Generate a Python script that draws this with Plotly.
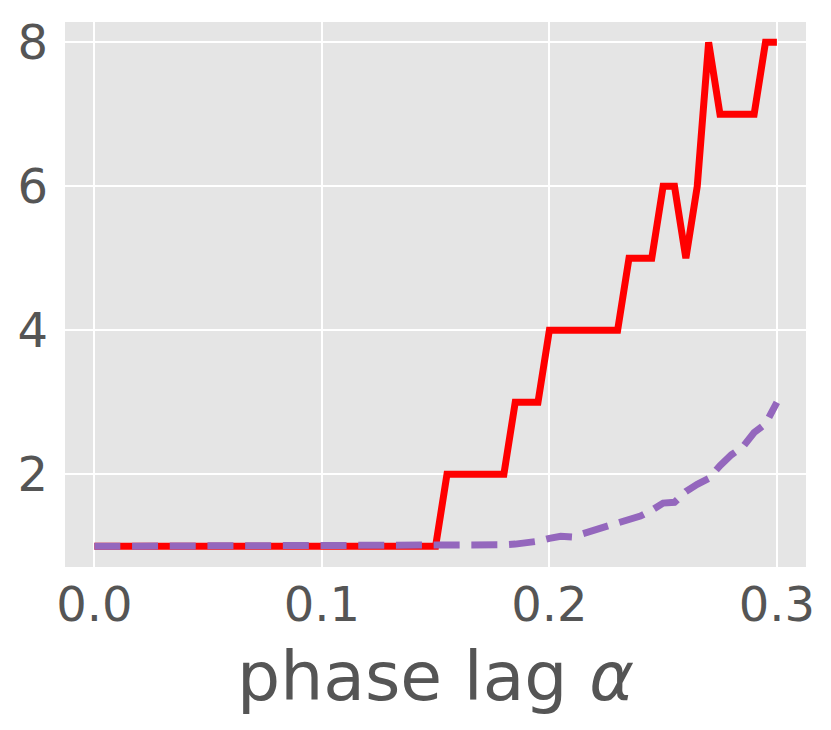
import plotly.graph_objects as go

# phase lag values
alpha = [0.0, 0.005, 0.01, 0.015, 0.02, 0.025, 0.03, 0.035, 0.04, 0.045,
         0.05, 0.055, 0.06, 0.065, 0.07, 0.075, 0.08, 0.085, 0.09, 0.095,
         0.1, 0.105, 0.11, 0.115, 0.12, 0.125, 0.13, 0.135, 0.14, 0.145,
         0.15, 0.155, 0.16, 0.165, 0.17, 0.175, 0.18, 0.185, 0.19, 0.195,
         0.2, 0.205, 0.21, 0.215, 0.22, 0.225, 0.23, 0.235, 0.24, 0.245,
         0.25, 0.255, 0.26, 0.265, 0.27, 0.275, 0.28, 0.285, 0.29, 0.295, 0.3]

# red solid curve
red_vals = [1] * 31 + [2, 2, 2, 2, 2, 2, 3, 3, 3,
                       4, 4, 4, 4, 4, 4, 4, 5, 5, 5,
                       6, 6, 5, 6, 8, 7, 7, 7, 7, 8, 8]

# purple dashed curve
purple_vals = [1.0] * 31 + [1.0, 1.0, 1.005, 1.01, 1.01, 1.02, 1.03, 1.04, 1.07,
                            1.11, 1.14, 1.13, 1.18, 1.21, 1.26, 1.31, 1.36, 1.42, 1.5,
                            1.6, 1.61, 1.76, 1.86, 1.94, 2.12, 2.27, 2.38, 2.58, 2.7, 3.0]

x_ticks = [0.0, 0.1, 0.2, 0.3]
y_ticks = [2, 4, 6, 8]

fig = go.Figure()
fig.add_trace(go.Scatter(x=alpha, y=red_vals, mode='lines',
                         line=dict(color='#FF0000', width=7)))
fig.add_trace(go.Scatter(x=alpha, y=purple_vals, mode='lines',
                         line=dict(color='#9467BD', width=7, dash='26px,11.7px')))

# the page body adds an 8px offset, so the margins are shifted to compensate
fig.update_layout(
    width=831, height=730,
    margin=dict(l=57, r=33, t=14, b=171),
    paper_bgcolor='white', plot_bgcolor='#E5E5E5',
    showlegend=False,
    font=dict(family='DejaVu Sans', color='#555555'),
)
fig.update_xaxes(range=[-0.0129, 0.3128], tickvals=x_ticks, tickformat='.1f',
                 tickfont=dict(size=48, color='#555555'), automargin=False,
                 gridcolor='white', gridwidth=2, zeroline=False, showline=False,
                 ticks='', ticklabelstandoff=5)
fig.update_yaxes(range=[0.712, 8.282], tickvals=y_ticks, automargin=False,
                 tickfont=dict(size=48, color='#555555'),
                 gridcolor='white', gridwidth=2, zeroline=False, showline=False,
                 ticks='', ticklabelstandoff=16)

# x axis label as an annotation so it can sit a little lower
fig.add_annotation(text='phase lag <i>α</i>', xref='paper', yref='paper',
                   x=0.5, y=0, xanchor='center', yanchor='top', yshift=-68,
                   showarrow=False, font=dict(size=68, color='#555555'))

fig.write_html("out.html")
